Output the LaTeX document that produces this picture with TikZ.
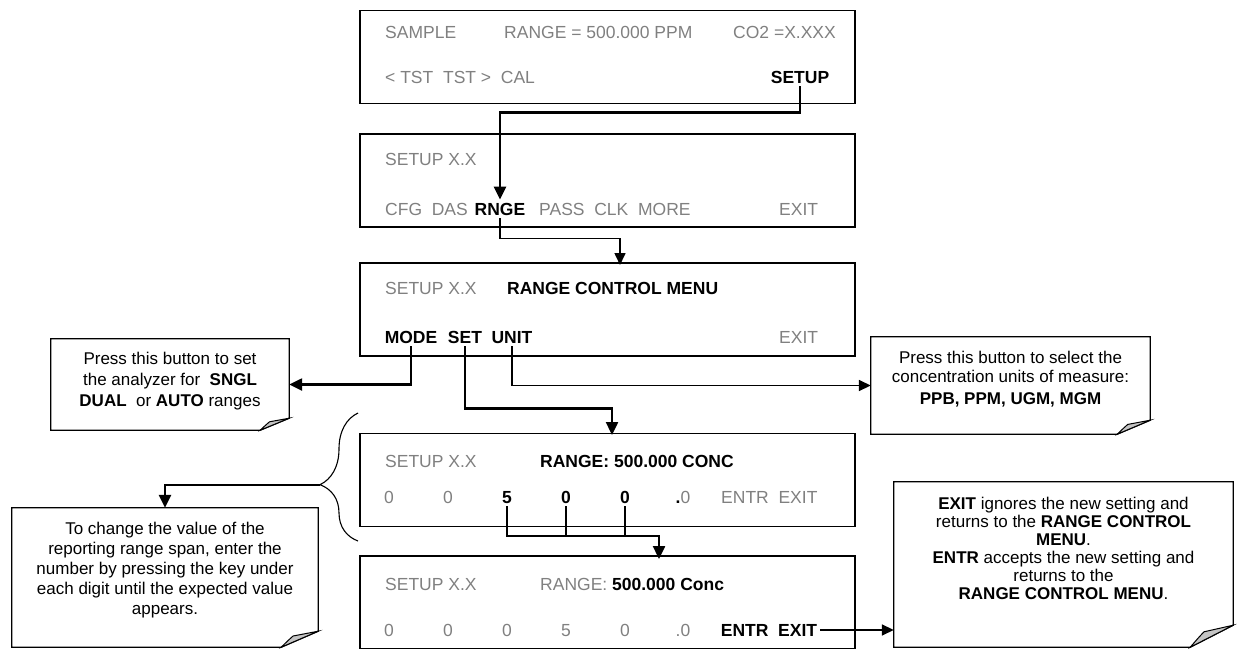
\documentclass[tikz,border=0pt]{standalone}
\usepackage{fontspec}
\setmainfont{Liberation Sans}
\usetikzlibrary{arrows.meta,positioning,decorations.pathreplacing}
\definecolor{LcdText}{HTML}{808080}
\definecolor{NoteFold}{HTML}{C4C4C4}

\newcommand{\dogear}[3]{%
  \draw[line width=1.3pt] (#1.north west) -- (#1.north east) -- ([yshift=#3]#1.south east) -- ([xshift=-#2]#1.south east) -- (#1.south west) -- cycle;
  \filldraw[fill=NoteFold,line width=1pt] ([xshift=-#2]#1.south east) .. controls ([xshift=-0.8*#2,yshift=0.45*#3]#1.south east) .. ([xshift=-0.68*#2,yshift=0.7*#3]#1.south east) -- ([yshift=#3]#1.south east) -- cycle;}

\begin{document}
\begin{tikzpicture}[x=1pt,y=-1pt,
  screen/.style={rectangle,draw,line width=1.3pt,minimum width=495pt,minimum height=93pt,inner sep=0pt},
  lcd/.style={anchor=base west,inner sep=0pt,text=LcdText,font=\fontsize{17.5}{21}\selectfont},
  lcdon/.style={lcd,text=black,font=\fontsize{17.5}{21}\selectfont\bfseries},
  key/.style={anchor=base,inner sep=3pt,text=black,font=\fontsize{17.5}{21}\selectfont\bfseries},
  notebox/.style={rectangle,inner sep=0pt},
  notetext/.style={align=center,inner sep=0pt,font=\fontsize{17}{20}\selectfont},
  link/.style={line width=2.4pt},
  arrow/.style={link,-{Triangle[length=13pt,width=12pt]}},
  thinarrow/.style={line width=1.6pt,-{Triangle[length=12pt,width=11pt]}}
]
\useasboundingbox (0,0) rectangle (1238,648);

\node[screen] (sample) at (607.5,57) {};
\node[lcd] (samplelbl) at (385,38) {SAMPLE};
\node[lcd] (rangelbl) at (504,38) {RANGE = 500.000 PPM};
\node[lcd] (cotwolbl) at (733,38) {CO2 =X.XXX};
\node[lcd] (tstlbl) at (385,83) {<\ TST\ \ TST\ >\ \ CAL};
\node[key] (setupkey) at (800,83) {SETUP};

\node[screen] (setupmenu) at (607.5,180.5) {};
\node[lcd] (setupxa) at (385,165) {SETUP X.X};
\node[lcd] (cfglbl) at (385,215) {CFG\ \ DAS};
\node[key] (rngekey) at (500,215) {RNGE};
\node[lcd] (passlbl) at (539,215) {PASS\ \ CLK\ \ MORE};
\node[lcd] (exitlbla) at (779,215) {EXIT};

\node[screen] (rangemenu) at (607.5,309.5) {};
\node[lcd] (setupxb) at (385,294) {SETUP X.X};
\node[lcdon] (rcmlbl) at (507,294) {RANGE CONTROL MENU};
\node[key] (modekey) at (411,343) {MODE};
\node[key] (setkey) at (465,343) {SET};
\node[key] (unitkey) at (512,343) {UNIT};
\node[lcd] (exitlblb) at (779,343) {EXIT};

\node[screen] (spanedit) at (607.5,480) {};
\node[lcd] (setupxc) at (385,467) {SETUP X.X};
\node[lcdon] (concslbl) at (540,467) {RANGE: 500.000 CONC};
\node[lcd,anchor=base] (digea) at (389,503) {0};
\node[lcd,anchor=base] (digeb) at (448,503) {0};
\node[key] (digfive) at (507,503) {5};
\node[key] (digzeroa) at (566,503) {0};
\node[key] (digzerob) at (625,503) {0};
\node[lcd,anchor=base] (pointa) at (683,503) {\textcolor{black}{\bfseries .}0};
\node[lcd] (entrexitlbl) at (721,503) {ENTR\ \ EXIT};

\node[screen] (spannew) at (607.5,602.5) {};
\node[lcd] (setupxd) at (385,590) {SETUP X.X};
\node[lcd] (concnlbl) at (540,590) {RANGE: \textcolor{black}{\bfseries 500.000 Conc}};
\node[lcd,anchor=base] (digna) at (389,636) {0};
\node[lcd,anchor=base] (dignb) at (448,636) {0};
\node[lcd,anchor=base] (dignc) at (507,636) {0};
\node[lcd,anchor=base] (dignd) at (566,636) {5};
\node[lcd,anchor=base] (digne) at (625,636) {0};
\node[lcd,anchor=base] (pointb) at (683,636) {.0};
\node[key] (entrexit) at (769,636) {ENTR\ \ EXIT};

\node[notebox,minimum width=238pt,minimum height=91pt] (modenote) at (170,384.5) {};
\dogear{modenote}{29pt}{12pt}
\node[notetext,font=\fontsize{17}{21}\selectfont,below=13pt of modenote.north] (modetext) {Press this button to set\\the analyzer for\ \ \textbf{SNGL}\\\textbf{DUAL}\ \ or \textbf{AUTO} ranges};

\node[notebox,minimum width=279pt,minimum height=97pt] (unitnote) at (1010.5,385.5) {};
\dogear{unitnote}{33pt}{14pt}
\node[notetext,font=\fontsize{17}{19}\selectfont,below=14pt of unitnote.north] (unittext) {Press this button to select the\\concentration units of measure:\\[3pt]\textbf{PPB, PPM, UGM, MGM}};

\node[notebox,minimum width=306pt,minimum height=139pt] (digitnote) at (165,577.5) {};
\dogear{digitnote}{37pt}{16pt}
\node[notetext,below=14pt of digitnote.north] (digittext) {To change the value of the\\reporting range span, enter the\\number by pressing the key under\\each digit until the expected value\\appears.};

\node[notebox,minimum width=339pt,minimum height=165pt] (exitnote) at (1063.5,564.5) {};
\dogear{exitnote}{43pt}{22pt}
\node[notetext,font=\fontsize{17}{18}\selectfont,below=15pt of exitnote.north] (exittext) {\textbf{EXIT} ignores the new setting and\\returns to the \textbf{RANGE CONTROL}\\\textbf{MENU}.\\\textbf{ENTR} accepts the new setting and\\returns to the\\\textbf{RANGE CONTROL MENU}.};

\coordinate (rngein) at (620,265);
\coordinate (setin) at (612,435);
\coordinate (digbus) at (659,536);
\coordinate (digin) at (659,559);
\coordinate (bracetip) at (320,485);

\draw[arrow] (setupkey.south) -- ++(0,26) -| (rngekey.north);
\draw[thinarrow] (rngekey.south) -- ++(0,20) -| (rngein);
\draw[arrow] (modekey.south) |- (modenote.east);
\draw[thinarrow] (unitkey.south) |- (unitnote.west);
\draw[arrow] (setkey.south) -- ++(0,62) -| (setin);
\draw[arrow] (digfive.south) |- (digbus) -- (digin);
\draw[link] (digzeroa.south) -- (digzeroa.south |- digbus);
\draw[link] (digzerob.south) -- (digzerob.south |- digbus);
\draw[line width=1.1pt,decorate,decoration={brace,amplitude=38pt,aspect=0.44}] (358,541) -- (358,413);
\draw[arrow] (bracetip) -| (digitnote.north);
\draw[thinarrow] (entrexit.east) -- (entrexit.east -| exitnote.west);
\end{tikzpicture}
\end{document}
